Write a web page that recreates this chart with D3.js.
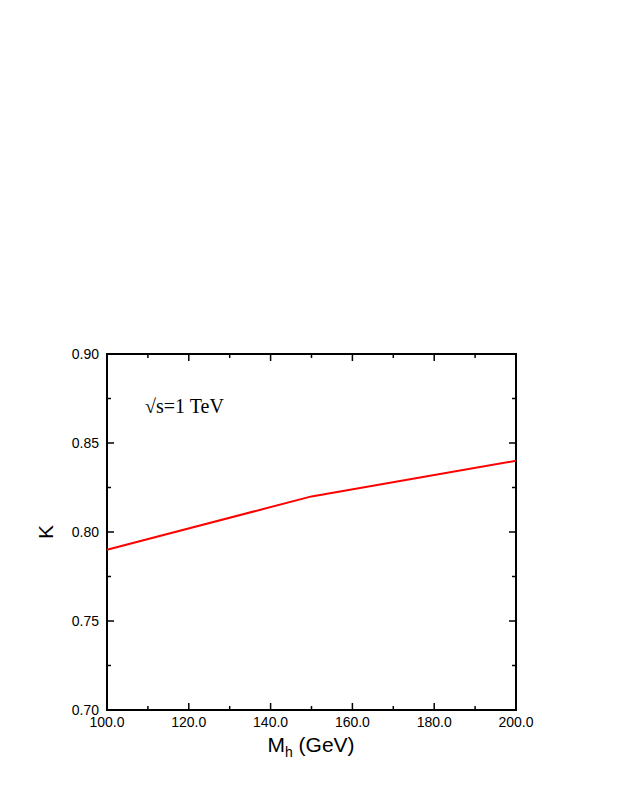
<!DOCTYPE html><html><head><meta charset="utf-8"><script src="https://cdn.jsdelivr.net/npm/d3@7"></script>
<style>body{margin:0;background:#fff}</style></head><body><script>
const massValues=[100,150,200];
const kValues=[0.79,0.82,0.84];
const xTicks=[100,120,140,160,180,200];
const yTicks=[0.70,0.75,0.80,0.85,0.90];
const W=623,H=806,L=107,R=516,T=354,B=710;
const svg=d3.select("body").append("svg").attr("width",W).attr("height",H);
const x=d3.scaleLinear().domain([100,200]).range([L,R]);
const y=d3.scaleLinear().domain([0.70,0.90]).range([B,T]);
const f="Liberation Sans, Arial, sans-serif";
const g=svg.append("g").attr("stroke","#000").attr("stroke-width",1.5);
d3.range(100,201,10).forEach(v=>{const len=v%20===0?7:4;
 g.append("line").attr("x1",x(v)).attr("x2",x(v)).attr("y1",B).attr("y2",B-len);
 g.append("line").attr("x1",x(v)).attr("x2",x(v)).attr("y1",T).attr("y2",T+len);});
d3.range(0,9).map(i=>0.70+i*0.025).forEach((v,i)=>{const len=i%2===0?7:4;
 g.append("line").attr("x1",L).attr("x2",L+len).attr("y1",y(v)).attr("y2",y(v));
 g.append("line").attr("x1",R).attr("x2",R-len).attr("y1",y(v)).attr("y2",y(v));});
svg.append("rect").attr("x",L).attr("y",T).attr("width",R-L).attr("height",B-T).attr("fill","none").attr("stroke","#000").attr("stroke-width",2);
xTicks.forEach(v=>svg.append("text").attr("x",x(v)).attr("y",B+17).attr("text-anchor","middle").attr("font-family",f).attr("font-size",14).text(v.toFixed(1)));
yTicks.forEach(v=>svg.append("text").attr("x",L-8).attr("y",y(v)+5).attr("text-anchor","end").attr("font-family",f).attr("font-size",14).text(v.toFixed(2)));
const line=d3.line().x((d,i)=>x(massValues[i])).y(d=>y(d));
svg.append("path").datum(kValues).attr("d",line).attr("fill","none").attr("stroke","#f00").attr("stroke-width",2);
const xl=svg.append("text").attr("x",311).attr("y",752).attr("text-anchor","middle").attr("font-family",f).attr("font-size",21);
xl.append("tspan").text("M");xl.append("tspan").attr("font-size",14).attr("dy",5).text("h");xl.append("tspan").attr("dy",-5).text(" (GeV)");
svg.append("text").attr("transform","translate(53,532) rotate(-90)").attr("text-anchor","middle").attr("font-family",f).attr("font-size",21).text("K");
svg.append("text").attr("x",145).attr("y",413).attr("font-family","Liberation Serif, Times New Roman, serif").attr("font-size",20).text("√s=1 TeV");
</script></body></html>
